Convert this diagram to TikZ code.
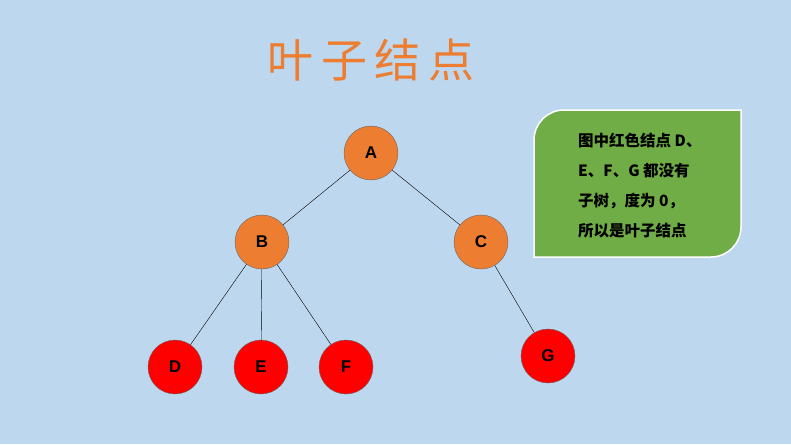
\documentclass[tikz,border=0pt]{standalone}
\usepackage{fontspec}
\newfontfamily\cjk{Noto Sans CJK SC}
\setmainfont{Liberation Sans}
\begin{document}
\begin{tikzpicture}[x=1pt,y=-1pt,
  inner/.style={circle,draw=black!60,fill=orange!80!red!90!yellow,minimum size=54pt,inner sep=0pt,font=\bfseries\fontsize{17}{17}\selectfont},
  leaf/.style={inner,fill=red}]
\fill[fill={rgb,255:red,189;green,215;blue,238}] (0,0) rectangle (791,444);
\useasboundingbox (0,0) rectangle (791,444);
\definecolor{org}{RGB}{237,125,49}
\node[text=org,font=\cjk\fontsize{46}{46}\selectfont] (t) at (371,60) {叶\,子\,结\,点};
\node[inner,fill=org] (A) at (371,153) {A};
\node[inner,fill=org] (B) at (262,242) {B};
\node[inner,fill=org] (C) at (481,242) {C};
\node[leaf] (D) at (175,367) {D};
\node[leaf] (E) at (261,367) {E};
\node[leaf] (F) at (346,367) {F};
\node[leaf] (G) at (548,356) {G};
\draw (A)--(B) (A)--(C) (B)--(D) (B)--(E) (B)--(F) (C)--(G);
\draw[white,line width=1.5pt,fill={rgb,255:red,112;green,173;blue,71}]
  (534,140) arc[start angle=180,end angle=270,radius=30] -- (741,110) -- (741,227)
  arc[start angle=0,end angle=90,radius=30] -- (534,257) -- cycle;
\node[align=left,anchor=north west,font=\cjk\bfseries\fontsize{15.5}{30}\selectfont,inner sep=0pt] (txt) at (578,133)
  {图中红色结点 D、\\E、F、G 都没有\\子树，度为 0，\\所以是叶子结点};
\end{tikzpicture}
\end{document}
